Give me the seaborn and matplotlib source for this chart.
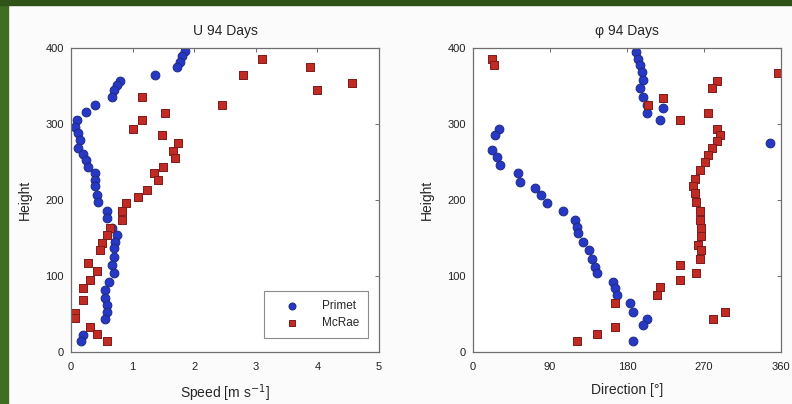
import matplotlib
matplotlib.use('Agg')
import matplotlib.pyplot as plt
from matplotlib.patches import Rectangle
import seaborn as sns
import pandas as pd

# speed profiles (height, speed m/s)
primet_u_h = [396, 389, 382, 375, 364, 356, 351, 345, 336, 325, 316, 305, 296, 288, 279,
              268, 261, 253, 244, 235, 226, 218, 207, 198, 185, 176, 163, 154, 145, 137,
              125, 114, 104, 92, 82, 71, 62, 53, 44, 22, 14]
primet_u = [1.85, 1.80, 1.77, 1.72, 1.36, 0.80, 0.74, 0.69, 0.66, 0.39, 0.25, 0.09, 0.06, 0.12, 0.15,
            0.12, 0.20, 0.25, 0.28, 0.39, 0.39, 0.39, 0.42, 0.44, 0.58, 0.58, 0.66, 0.74, 0.71, 0.69,
            0.69, 0.66, 0.69, 0.61, 0.55, 0.55, 0.58, 0.58, 0.55, 0.20, 0.17]
mcrae_u_h = [385, 375, 364, 354, 345, 335, 325, 314, 305, 294, 286, 275, 264, 255, 244,
             235, 226, 213, 204, 196, 185, 174, 163, 154, 143, 134, 117, 106, 95, 84,
             68, 51, 45, 33, 24, 14]
mcrae_u = [3.10, 3.88, 2.80, 4.56, 3.99, 1.15, 2.45, 1.53, 1.15, 1.01, 1.47, 1.74, 1.66, 1.69, 1.50,
           1.34, 1.42, 1.23, 1.09, 0.90, 0.82, 0.82, 0.63, 0.58, 0.50, 0.47, 0.28, 0.42, 0.31, 0.20,
           0.20, 0.06, 0.06, 0.31, 0.42, 0.58]

# direction profiles (height, degrees)
primet_d_h = [395, 386, 378, 369, 358, 347, 336, 325, 314, 321, 305, 294, 286, 266, 257,
              246, 235, 224, 216, 207, 196, 185, 174, 165, 157, 145, 134, 123, 112, 104,
              92, 84, 75, 64, 53, 44, 36, 14, 275]
primet_d = [191, 193, 195, 197, 199, 195, 199, 203, 203, 222, 219, 30, 26, 22, 28,
            32, 53, 55, 72, 80, 86, 105, 119, 121, 123, 129, 135, 139, 143, 145,
            164, 166, 168, 183, 187, 203, 199, 187, 347]
mcrae_d_h = [386, 378, 367, 356, 347, 334, 325, 314, 305, 294, 286, 277, 268, 259, 250,
             239, 228, 218, 209, 198, 185, 174, 163, 152, 141, 134, 123, 114, 104, 95,
             86, 75, 64, 53, 44, 33, 24, 14]
mcrae_d = [22, 24, 357, 285, 279, 222, 205, 275, 242, 285, 289, 285, 279, 275, 271,
           265, 259, 257, 259, 261, 265, 265, 267, 267, 263, 267, 265, 242, 261, 242,
           219, 215, 166, 294, 281, 166, 145, 121]

stations = ['Primet', 'McRae']
speed_ticks = [0, 1, 2, 3, 4, 5]
dir_ticks = [0, 90, 180, 270, 360]
height_ticks = [0, 100, 200, 300, 400]

speed_data = {
    'Primet': pd.DataFrame({'speed': primet_u, 'height': primet_u_h}),
    'McRae': pd.DataFrame({'speed': mcrae_u, 'height': mcrae_u_h}),
}
dir_data = {
    'Primet': pd.DataFrame({'direction': primet_d, 'height': primet_d_h}),
    'McRae': pd.DataFrame({'direction': mcrae_d, 'height': mcrae_d_h}),
}

sns.set_theme(style='white')
plt.rcParams['font.family'] = ['Liberation Sans', 'DejaVu Sans']

face = {'Primet': '#2838c6', 'McRae': '#c22a24'}
edge = {'Primet': '#1d2a80', 'McRae': '#7c1c1a'}
markers = {'Primet': 'o', 'McRae': 's'}
sizes = {'Primet': 40, 'McRae': 34}

fig = plt.figure(figsize=(7.92, 4.04), dpi=100, facecolor='#fbfbfb')
# green frame on the left and top edges
fig.patches.append(Rectangle((0, 0), 8 / 792, 1, transform=fig.transFigure,
                             color='#3f6e23', zorder=10))
fig.patches.append(Rectangle((0, 1 - 5 / 404), 1, 5 / 404, transform=fig.transFigure,
                             color='#2f5219', zorder=10))

ax1 = fig.add_axes([71 / 792, 52 / 404, 308 / 792, 304 / 404])
ax2 = fig.add_axes([473 / 792, 52 / 404, 308 / 792, 304 / 404])


def style_axis(ax):
    ax.set_facecolor('white')
    for s in ax.spines.values():
        s.set_color('#6e6e6e')
        s.set_linewidth(0.9)
    ax.tick_params(direction='in', length=3, width=0.7, color='#6e6e6e',
                   top=True, right=True, labelsize=8, labelcolor='#222222')
    ax.tick_params(axis='x', pad=7)
    ax.tick_params(axis='y', pad=5)
    ax.set_ylim(0, 400)
    ax.set_yticks(height_ticks)
    ax.set_ylabel('Height', fontsize=10, labelpad=10)


for st in stations:
    sns.scatterplot(data=speed_data[st], x='speed', y='height', color=face[st],
                    marker=markers[st], s=sizes[st], linewidth=0.7, edgecolor=edge[st],
                    label=st, ax=ax1)
    sns.scatterplot(data=dir_data[st], x='direction', y='height', color=face[st],
                    marker=markers[st], s=sizes[st], linewidth=0.7, edgecolor=edge[st],
                    ax=ax2)

ax1.set_xlim(0, 5)
ax1.set_xticks(speed_ticks)
ax1.set_xlabel('Speed [m s$^{-1}$]', fontsize=10, labelpad=8)
ax1.set_title('U 94 Days', fontsize=10, pad=9)
style_axis(ax1)
leg = ax1.legend(loc='lower right', frameon=True, fancybox=False, fontsize=8.5,
                 handlelength=3.2, handletextpad=0.9, borderpad=0.8, markerscale=0.8,
                 labelspacing=0.4, bbox_to_anchor=(0.985, 0.025))
leg.get_frame().set_edgecolor('#6e6e6e')
leg.get_frame().set_linewidth(0.8)

ax2.set_xlim(0, 360)
ax2.set_xticks(dir_ticks)
ax2.set_xlabel('Direction [°]', fontsize=10, labelpad=8)
ax2.set_title('φ 94 Days', fontsize=10, pad=9)
style_axis(ax2)

fig.savefig('out.png', dpi=100, facecolor=fig.get_facecolor())
